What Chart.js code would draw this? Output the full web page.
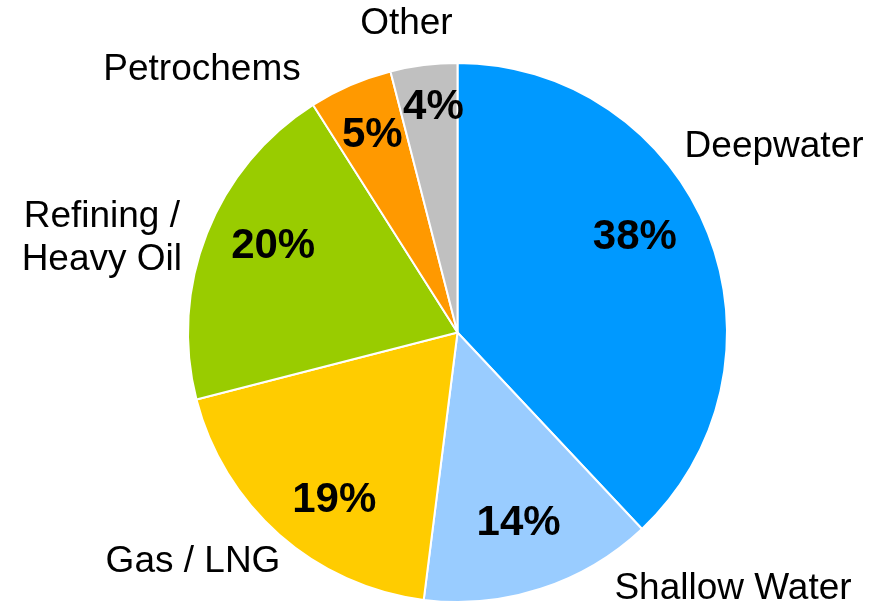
<!DOCTYPE html>
<html>
<head>
<meta charset="utf-8">
<script src="https://cdn.jsdelivr.net/npm/chart.js@4.4.0/dist/chart.umd.min.js"></script>
<style>
html,body{margin:0;padding:0;background:#fff;}
#wrap{width:884px;height:603px;position:relative;}
</style>
</head>
<body>
<div id="wrap"><canvas id="c" width="884" height="603"></canvas></div>
<script>
const categories = ["Deepwater", "Shallow Water", "Gas / LNG", "Refining / Heavy Oil", "Petrochems", "Other"];
const shares = [38, 14, 19, 20, 5, 4];
const colors = ["#0099FF", "#99CCFF", "#FFCC00", "#99CC00", "#FF9900", "#C0C0C0"];
const nameLines = [["Deepwater"], ["Shallow Water"], ["Gas / LNG"], ["Refining /", "Heavy Oil"], ["Petrochems"], ["Other"]];

// label anchor offsets relative to pie center (px at radius 269)
const nameOffsets = [[316,-185],[275,256],[-264,229],[-355,-94],[-255,-262],[-51,-308]];
const pctOffsets = [[177,-95],[61,191],[-123,168],[-184,-86],[-85,-197],[-24,-225]];

const labelPlugin = {
  id: 'labels',
  afterDatasetsDraw(chart) {
    const ctx = chart.ctx;
    const meta = chart.getDatasetMeta(0);
    const arc0 = meta.data[0];
    const cx = arc0.x, cy = arc0.y, r = arc0.outerRadius;
    const k = r / 269;
    ctx.save();
    ctx.fillStyle = '#000';
    ctx.textAlign = 'center';
    ctx.textBaseline = 'middle';
    meta.data.forEach((arc, i) => {
      ctx.font = 'bold 42px "Liberation Sans", Arial, sans-serif';
      ctx.fillText(shares[i] + '%', cx + pctOffsets[i][0]*k, cy + pctOffsets[i][1]*k);
      ctx.font = '37px "Liberation Sans", Arial, sans-serif';
      const lines = nameLines[i];
      const lh = 43;
      lines.forEach((ln, j) => {
        const y = cy + nameOffsets[i][1]*k + (j - (lines.length-1)/2) * lh;
        ctx.fillText(ln, cx + nameOffsets[i][0]*k, y);
      });
    });
    ctx.restore();
  }
};

new Chart(document.getElementById('c'), {
  type: 'pie',
  data: {
    labels: categories,
    datasets: [{
      data: shares,
      backgroundColor: colors,
      borderColor: '#FFFFFF',
      borderWidth: 2
    }]
  },
  options: {
    responsive: false,
    animation: false,
    layout: { padding: { left: 187, right: 156, top: 62, bottom: 0 } },
    plugins: { legend: { display: false }, tooltip: { enabled: false } }
  },
  plugins: [labelPlugin]
});
</script>
</body>
</html>
